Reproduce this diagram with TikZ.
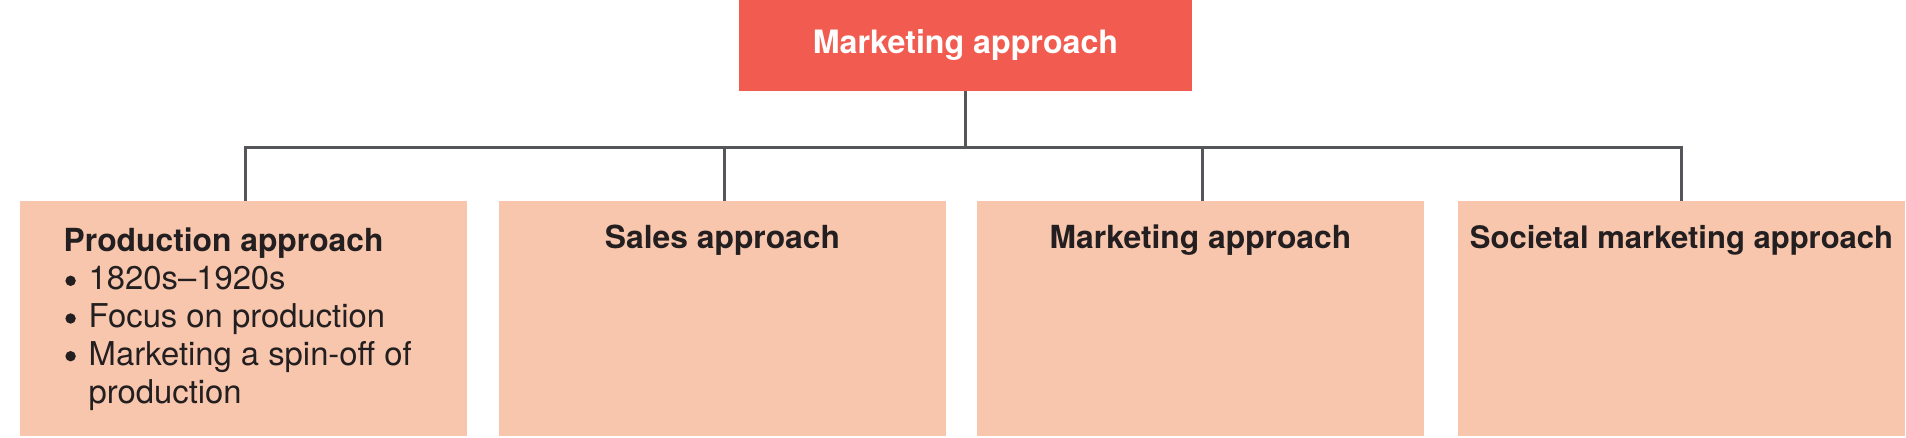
\documentclass[tikz,border=0pt]{standalone}
\usepackage{fontspec}
\setmainfont{TeX Gyre Heros}
\definecolor{topred}{HTML}{F15B50}
\definecolor{peach}{HTML}{F8C6AD}
\definecolor{linegray}{HTML}{55565A}
\definecolor{darktext}{HTML}{231F20}
\newcommand{\bigbul}{\makebox[11.65pt][l]{\raisebox{2.0pt}{\tikz\fill[darktext] (0,0) circle (2.6pt);}}}
\begin{document}
\begin{tikzpicture}[x=0.5pt,y=-0.5pt,
  rootbox/.style={fill=topred, draw=none, minimum width=226.5pt, minimum height=45.5pt, inner sep=0pt, outer sep=0pt},
  apbox/.style={fill=peach, draw=none, minimum width=223.5pt, minimum height=117.5pt, inner sep=0pt, outer sep=0pt},
  conn/.style={draw=linegray, line width=1.2pt},
  roottext/.style={font=\bfseries\fontsize{16.1pt}{19pt}\selectfont, text=white, inner sep=0pt},
  titletext/.style={font=\bfseries\fontsize{15.9pt}{19pt}\selectfont, text=darktext, inner sep=0pt},
  listtext/.style={font=\fontsize{16.4pt}{18.85pt}\selectfont, text=darktext, inner sep=0pt}]
\useasboundingbox (0,0) rectangle (1906,438);
% boxes
\node[rootbox] (root) at (965.5,45.5) {};
\node[roottext, anchor=base] (roott) at (965.5,53.3) {Marketing approach};
\node[apbox] (b1) at (243.5,318.5) {};
\node[apbox] (b2) at (722.5,318.5) {};
\node[apbox] (b3) at (1200.5,318.5) {};
\node[apbox] (b4) at (1681.5,318.5) {};
% connectors
\coordinate (bus) at (965.5,147.5);
\draw[conn] (root.south) -- (root.south |- bus);
\draw[conn] ([xshift=1pt]b1.north) -- ([xshift=1pt]b1.north |- bus) -- (b4.north |- bus) -- (b4.north);
\draw[conn] ([xshift=1pt]b2.north |- bus) -- ([xshift=1pt]b2.north);
\draw[conn] ([xshift=1pt]b3.north |- bus) -- ([xshift=1pt]b3.north);
% titles
\node[titletext, anchor=base west] (t1) at (63.3,251.7) {Production approach};
\node[titletext, anchor=base] (t2) at (722.5,248.4) {Sales approach};
\node[titletext, anchor=base] (t3) at (1200.5,248.4) {Marketing approach};
\node[titletext, anchor=base, font=\bfseries\fontsize{15.5pt}{19pt}\selectfont] (t4) at (1681.5,248.4) {Societal marketing approach};
% list
\node[listtext, anchor=base west] (l1) at (65,290) {\begin{tabular}[t]{@{}l@{}}
\bigbul 1820s–1920s\\
\bigbul Focus on production\\
\bigbul Marketing a spin-off of\\
\makebox[11.65pt][l]{}production
\end{tabular}};
\end{tikzpicture}
\end{document}
